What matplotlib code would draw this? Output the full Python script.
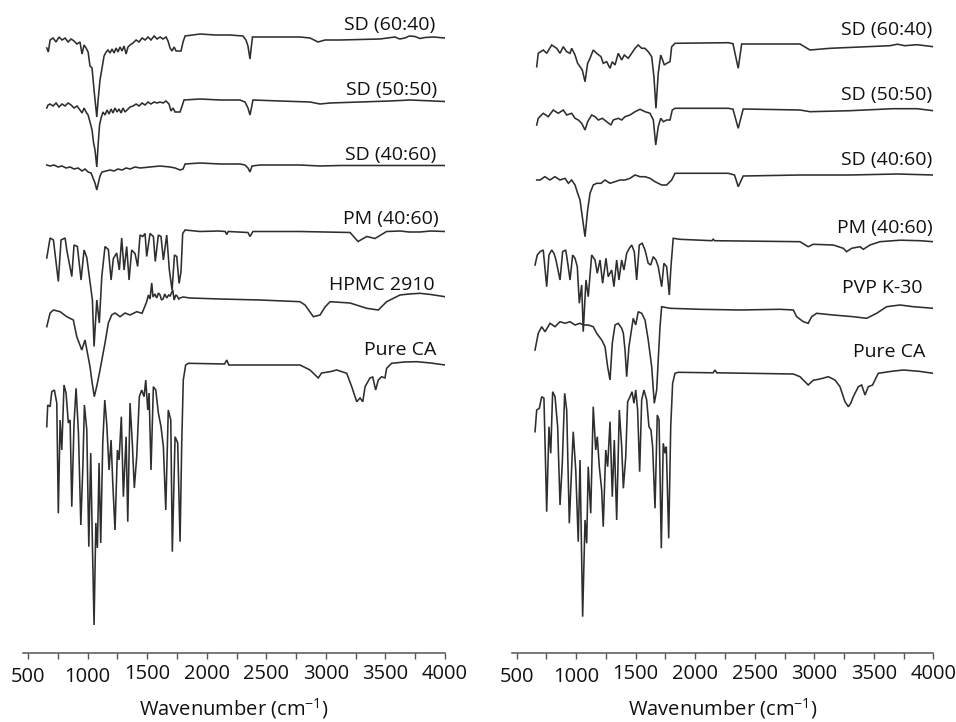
import matplotlib
matplotlib.use("Agg")
import matplotlib.pyplot as plt
from matplotlib.ticker import MultipleLocator
from matplotlib.transforms import ScaledTranslation

plt.rcParams['font.family'] = ['Open Sans', 'DejaVu Sans']
plt.rcParams['mathtext.fontset'] = 'custom'
plt.rcParams['mathtext.rm'] = 'Open Sans'
plt.rcParams['mathtext.it'] = 'Open Sans:italic'

# ---------------- data (wavenumber in cm-1, relative transmittance) ----------------
XTICKS = [500, 1000, 1500, 2000, 2500, 3000, 3500, 4000]
XLABEL = r'Wavenumber (cm$^{-1}$)'

# ---- left panel (HPMC 2910 systems) ----
L_NAMES = ["SD (60:40)", "SD (50:50)", "SD (40:60)", "PM (40:60)", "HPMC 2910", "Pure CA"]
L_OFFSETS = [615, 551.5, 487.5, 421.5, 356, 288]

L_SD6040_WN = [657, 670, 685, 710, 735, 760, 785, 811, 836, 861, 886, 911, 936, 953, 970, 987, 1004, 1020, 1037,
               1054, 1077, 1088, 1104, 1121, 1138, 1155, 1171, 1188, 1205, 1222, 1239, 1255, 1272, 1289, 1306, 1323,
               1339, 1356, 1381, 1407, 1432, 1457, 1482, 1507, 1532, 1558, 1583, 1608, 1633, 1658, 1675, 1692, 1709,
               1726, 1743, 1784, 1801, 1818, 1944, 2070, 2195, 2304, 2329, 2346, 2363, 2371, 2384, 2531, 2783, 2867,
               2934, 2993, 3119, 3454, 3580, 3620, 3664, 3700, 3748, 3790, 3832, 3900, 4000]
L_SD6040_T = [-10, -14, -2, 0, -4, 1, -2, 0, -4, -1, -3, -6, -4, -16, -7, -10, -14, -28, -30,
              -52, -79, -62, -42, -30, -18, -14, -12, -15, -11, -15, -10, -14, -9, -13, -8, -16,
              -9, -7, -5, -2, -4, 0, -2, 1, -2, 2, -1, 1, -1, 1, -3, -10, -13,
              -9, -13, -13, -4, 2, 4, 3, 3, 2, -2, -8, -21, -12, 1, 1, 1, 0,
              -4, -2, -2, -1, 1, -1, 0, 2, 1.5, -0.5, 0.5, 1, 0]

L_SD5050_WN = [657, 668, 685, 710, 735, 760, 785, 811, 836, 861, 886, 911, 936, 953, 970, 987, 1004, 1020, 1037,
               1050, 1062, 1077, 1088, 1100, 1113, 1129, 1146, 1163, 1180, 1197, 1213, 1230, 1247, 1264, 1281, 1297,
               1314, 1331, 1356, 1381, 1407, 1432, 1457, 1482, 1507, 1532, 1558, 1583, 1608, 1633, 1658, 1683, 1700,
               1717, 1734, 1776, 1793, 1809, 1944, 2111, 2279, 2321, 2346, 2363, 2375, 2388, 2615, 2867, 2951, 3035,
               3286, 3538, 3706, 4000]
L_SD5050_T = [-6.5, -3.5, -2.5, -4.5, -1.5, -5.5, -2.5, -4.5, -1.5, -3.5, -6.5, -4.5, -8.5, -11.5, -6.5, -10.5,
              -13.5, -20.5, -28.5, -41.5, -48.5, -65.5, -43.5, -23.5, -16.5, -10.5, -13.5, -8.5, -12.5, -7.5, -11.5,
              -6.5, -10.5, -7.5, -11.5, -6.5, -10.5, -8.5, -5.5, -4.5, -2.5, -4.5, -1.5, -3.5, -0.5, -2.5, -0.5,
              -1.5, -0.5, -1.5, 0.5, -2.5, -9.5, -6.5, -10.5, -10.5, -4.5, 1.5, 2.5, 1.5, 1.5, -0.5, -6.5, -13.5,
              -6.5, 1.5, 0.5, -0.5, -2.5, -1.5, -0.5, 0.5, 1.5, 0]

L_SD4060_WN = [657, 685, 718, 752, 785, 819, 853, 886, 920, 953, 978, 1004, 1029, 1045, 1062, 1077, 1092, 1104,
               1121, 1155, 1188, 1222, 1255, 1289, 1323, 1356, 1398, 1440, 1524, 1608, 1692, 1734, 1776, 1801, 1818,
               1944, 2111, 2279, 2321, 2346, 2363, 2380, 2447, 2783, 2951, 3119, 3454, 4000]
L_SD4060_T = [0.5, -0.5, 0.5, -1.5, -0.5, -2.5, -1.5, -3.5, -2.5, -5.5, -3.5, -6.5, -7.5, -12.5, -17.5, -24.5,
              -16.5, -10.5, -6.5, -5.5, -4.5, -5.5, -3.5, -4.5, -2.5, -3.5, -1.5, -2.5, -1.5, -0.5, -1.5, -2.5,
              -4.5, -3.5, 1.5, 2.5, 1.5, 1.5, 0.5, -2.5, -6.5, -0.5, 0.5, 0.5, -0.5, 0, 0, 0]

L_PM_WN = [657, 685, 713, 754, 777, 811, 825, 867, 886, 914, 945, 970, 993, 1014, 1040, 1054, 1077, 1098, 1119,
           1146, 1174, 1197, 1216, 1244, 1266, 1286, 1306, 1328, 1348, 1370, 1398, 1420, 1440, 1463, 1482, 1496,
           1524, 1552, 1568, 1594, 1616, 1636, 1664, 1686, 1709, 1729, 1748, 1768, 1784, 1798, 1818, 1944, 2100,
           2155, 2168, 2180, 2346, 2363, 2388, 2783, 3203, 3270, 3343, 3412, 3510, 3622, 3700, 3790, 3880, 4000]
L_PM_T = [-26.5, -6.5, -8.5, -50, -8.5, -6.5, -18.5, -45, -13.5, -15, -48.5, -18.5, -26, -45, -68.5, -115, -68.5,
          -91.5, -45, -15, -18, -48.5, -27, -21.5, -38.5, -6.5, -38.5, -15, -48.5, -18.5, -22, -35, -3.5, -5, -2,
          -25, -2, -5, -30, -3.5, -5, -28.5, -3.5, -38.5, -58.5, -23.5, -25, -52, -40, -2, 1.5, 0, 0.5,
          0, -3, 0, -1, -5, 0, 0, -1, -10, -5, -7, 0, 0.5, -0.5, -0.5, 0.5, 0]

L_HPMC_WN = [657, 685, 713, 769, 825, 880, 909, 951, 978, 1020, 1037, 1056, 1079, 1104, 1146, 1174, 1202, 1230,
             1272, 1314, 1356, 1412, 1457, 1496, 1510, 1524, 1538, 1549, 1565, 1580, 1595, 1608, 1620, 1633, 1648,
             1664, 1680, 1692, 1715, 1726, 1740, 1751, 1765, 1776, 1800, 1860, 2111, 2447, 2783, 2825, 2895, 2951,
             2993, 3035, 3203, 3343, 3440, 3510, 3622, 3700, 3790, 3880, 4000]
L_HPMC_T = [-29.7, -16, -13, -14.7, -19.7, -23, -39.7, -53, -43, -69.7, -85, -99.7, -88, -73, -46, -26, -18, -16,
            -19.7, -16, -18, -14.7, -16.3, -4.7, 2, -2, 14, 0, 3, -1, 4, 2, -3, -2, 3, -1, 2, 1, 7, -3, 2, 1, -2,
            -1, 0, -1, -2, -3, -4.7, -8, -19.7, -18, -10, -4.7, -6, -11.3, -13, -4.7, 2, 3, 3.7, 2.5, 0.3]

L_CA_WN = [657, 665, 685, 699, 721, 741, 754, 769, 783, 802, 819, 838, 853, 867, 886, 903, 923, 943, 960, 973,
           993, 1010, 1026, 1040, 1054, 1069, 1082, 1096, 1110, 1127, 1144, 1161, 1180, 1197, 1211, 1230, 1250,
           1264, 1283, 1300, 1323, 1337, 1356, 1375, 1392, 1412, 1434, 1454, 1474, 1488, 1505, 1516, 1532, 1552,
           1572, 1594, 1616, 1636, 1656, 1677, 1698, 1711, 1734, 1756, 1776, 1790, 1803, 1823, 1845, 2150, 2168,
           2185, 2783, 2867, 2936, 2964, 3035, 3091, 3175, 3217, 3259, 3287, 3310, 3329, 3370, 3393, 3418, 3440,
           3468, 3496, 3510, 3552, 3660, 3762, 3880, 4000]
L_CA_T = [-61.7, -40, -41.7, -26.7, -25, -38, -148.3, -55, -85, -20, -28, -58, -55, -141.7, -58, -23.3, -68, -160,
          -101.7, -40, -65, -181.7, -88, -178, -260, -158, -183, -98, -178, -78, -35, -60, -105, -75, -118, -165,
          -85, -95, -51.7, -131.7, -71.7, -156.7, -38, -78, -123, -91.7, -31.7, -25, -31.7, -15, -45, -28, -105,
          -21.7, -25, -48, -61.7, -81.7, -145, -45, -55, -186.7, -71.7, -78, -176.7, -78, -15, 0, 1.7, 1, 5, 0, 0,
          -5, -13, -8, -6.7, -5, -8.3, -21.7, -36.7, -33, -36.7, -21.7, -13, -12, -25, -15, -11.7, -13, -3.3,
          1.7, 3, 3.3, 2, 0]

# ---- right panel (PVP K-30 systems) ----
R_NAMES = ["SD (60:40)", "SD (50:50)", "SD (40:60)", "PM (40:60)", "PVP K-30", "Pure CA"]
R_OFFSETS = [606.3, 542.3, 478, 411.3, 344.7, 279.7]

R_SD6040_WN = [668, 681, 723, 752, 794, 836, 864, 891, 920, 948, 962, 990, 1012, 1032, 1051, 1074, 1096, 1116,
               1143, 1172, 1208, 1227, 1256, 1284, 1303, 1326, 1353, 1382, 1404, 1437, 1466, 1494, 1521, 1550,
               1578, 1605, 1634, 1653, 1670, 1689, 1710, 1726, 1740, 1760, 1788, 1802, 1830, 2277, 2317, 2361,
               2390, 2880, 2964, 3132, 3636, 3700, 3760, 3863, 4000]
R_SD6040_T = [-20, -6.6, -3.3, -6.6, 1.7, -1.6, -6.6, 0, -5, -6.6, -1.6, -8.3, -16.6, -20, -23.3, -35, -16.6,
              -11.6, -3.3, -6.6, -10, -16.6, -15, -21.6, -15, -18.3, -6.6, -13.3, -8.3, -11.6, -6.6, -1.6, 1.7,
              -1.6, -1.6, -5, -10, -30, -61.6, -26.6, -8.3, -13.3, -18.3, -16.6, -15, 0, 3.4, 4, 3, -21.6, 2.7,
              2.7, -3.3, -1.6, 1, 2.5, 1, 2, 0]

R_SD5050_WN = [668, 681, 723, 765, 807, 849, 891, 920, 962, 990, 1017, 1046, 1074, 1096, 1130, 1158, 1186, 1219,
               1256, 1292, 1311, 1353, 1382, 1410, 1452, 1494, 1536, 1578, 1620, 1648, 1668, 1689, 1710, 1732,
               1760, 1788, 1807, 1830, 2277, 2317, 2361, 2403, 2880, 2964, 3300, 3661, 3863, 4000]
R_SD5050_T = [-14.3, -7.6, -2.6, -6, 0.7, -2.6, 0.7, -4.3, -2.6, -7.6, -9.3, -12.6, -19.3, -11, -4.3, -6, -9.3,
              -7.6, -11, -14.3, -9.3, -7.6, -9.3, -6, -4.3, -1, 1.4, -1, -2.6, -9.3, -34.3, -16, -7.6, -11, -9.3,
              -9.3, 0.7, 2.4, 2.4, 1.5, -17.6, 1.7, 0.7, -1, 0, 2, 2, 0]

R_SD4060_WN = [668, 696, 737, 779, 821, 864, 906, 934, 962, 990, 1012, 1032, 1051, 1074, 1096, 1116, 1143, 1172,
               1208, 1242, 1284, 1326, 1368, 1410, 1452, 1494, 1536, 1578, 1620, 1662, 1689, 1718, 1760, 1802,
               1816, 1830, 2277, 2330, 2361, 2403, 2880, 3300, 3700, 4000]
R_SD4060_T = [-5, -5, -1.7, -5, -1.7, -5, -3.3, -8.3, -5, -10, -18.3, -25, -41.7, -61.7, -35, -18.3, -10, -8.3,
              -8.3, -5, -8.3, -6.7, -5, -5, -3.3, 0, -1.7, -1.7, -3.3, -6.7, -8.3, -10, -10, -5, -1.7, 1.7, 1.7,
              0, -11.7, -1, 0, 0, 1, 0]

R_PM_WN = [654, 673, 696, 723, 752, 771, 794, 813, 830, 864, 886, 912, 925, 948, 970, 990, 1009, 1026, 1046, 1059,
           1082, 1101, 1130, 1158, 1177, 1200, 1222, 1250, 1269, 1298, 1317, 1340, 1359, 1382, 1401, 1424, 1446,
           1466, 1488, 1508, 1530, 1555, 1578, 1605, 1626, 1647, 1670, 1689, 1718, 1737, 1760, 1782, 1796, 1815,
           1872, 2140, 2151, 2162, 2880, 2949, 2991, 3159, 3244, 3272, 3314, 3384, 3412, 3468, 3552, 3720, 3888, 4000]
R_PM_T = [-23.3, -13.3, -10, -8.3, -45, -13.3, -8.3, -11.6, -18.3, -38.3, -10, -8.3, -18.3, -38.3, -13.3, -16.6,
          -25, -61.6, -43.3, -90, -38.3, -55, -13.3, -18.3, -31.6, -18.3, -41.6, -16.6, -35, -28.3, -45, -18.3,
          -38.3, -18.3, -28.3, -11.6, -6.6, -3.3, -10, -38.3, -3.3, -1.6, -8.3, -21.6, -23.3, -15, -18.3, -25, -45,
          -21.6, -25, -53.3, -25, 3.4, 2.4, 1, 2.5, 1, 0, -5, -2.6, -3.3, -6.6, -10, -6.6, -5, -7.6, -3.3, 0, 1.5,
          1, 0]

R_PVP_WN = [654, 681, 710, 738, 780, 822, 864, 906, 948, 990, 1032, 1059, 1101, 1143, 1172, 1214, 1242, 1264,
            1284, 1303, 1326, 1353, 1382, 1396, 1410, 1424, 1443, 1460, 1479, 1500, 1521, 1550, 1578, 1605, 1634,
            1656, 1676, 1689, 1704, 1718, 1788, 2040, 2376, 2712, 2824, 2852, 2908, 2949, 2978, 3020, 3159, 3327,
            3440, 3524, 3608, 3720, 3832, 4000]
R_PVP_T = [-41.7, -25, -18.4, -23.4, -15, -18.4, -13.4, -15, -13.4, -16.7, -15, -16.7, -16.7, -18.4, -25, -31.7,
           -38.4, -58.4, -71.7, -35, -16.7, -15, -20, -25, -41.7, -68.4, -38.4, -25, -10, -16.7, -3.4, -5, -11.7,
           -31.7, -58.4, -95, -81.7, -51.7, -18.4, 1.6, 0, -1, -1.7, -1, -1.7, -8.4, -13.4, -15, -8.4, -5, -6.7,
           -8.4, -10, -5, 1.6, 3.3, 1.6, 0]

R_CA_WN = [654, 668, 690, 710, 729, 752, 771, 786, 802, 822, 844, 864, 883, 903, 920, 942, 962, 975, 996, 1017,
           1032, 1054, 1074, 1088, 1101, 1122, 1143, 1164, 1177, 1194, 1214, 1227, 1248, 1264, 1284, 1303, 1320,
           1340, 1362, 1382, 1396, 1416, 1432, 1452, 1469, 1485, 1500, 1516, 1533, 1550, 1569, 1592, 1611, 1628,
           1642, 1662, 1681, 1696, 1715, 1731, 1746, 1757, 1777, 1794, 1810, 1830, 1857, 2150, 2166, 2180, 2824,
           2880, 2949, 2991, 3048, 3118, 3174, 3216, 3258, 3286, 3306, 3328, 3370, 3398, 3426, 3454, 3490, 3510,
           3538, 3650, 3748, 3880, 4000]
R_CA_T = [-58.4, -36.7, -35, -23.4, -25, -138.4, -53.4, -80, -18.4, -23.4, -53.4, -131.7, -90, -20, -36.7, -150,
          -93.4, -58.4, -96.7, -168.4, -86.7, -243.4, -146.7, -170, -93.4, -140, -33.4, -76.7, -63.4, -93.4, -116.7,
          -153.4, -76.7, -93.4, -48.4, -123.4, -66.7, -146.7, -36.7, -73.4, -115, -83.4, -28.4, -23.4, -18.4, -30,
          -16.7, -36.7, -98.4, -26.7, -16.7, -26.7, -53.4, -56.7, -73.4, -135, -41.7, -46.7, -175, -70, -80, -73.4,
          -165, -53.4, -10, 0, 1, 0.5, 3.3, 0.5, -0.7, -3.4, -11.7, -7, -5.7, -3.4, -6.7, -13.4, -28.4, -33.4, -30,
          -23.4, -13.4, -11.7, -21.7, -13.4, -11.7, -6.7, 0, 2, 3.3, 2, 0]

LEFT_SPECTRA = [(L_SD6040_WN, L_SD6040_T), (L_SD5050_WN, L_SD5050_T), (L_SD4060_WN, L_SD4060_T),
                (L_PM_WN, L_PM_T), (L_HPMC_WN, L_HPMC_T), (L_CA_WN, L_CA_T)]
RIGHT_SPECTRA = [(R_SD6040_WN, R_SD6040_T), (R_SD5050_WN, R_SD5050_T), (R_SD4060_WN, R_SD4060_T),
                 (R_PM_WN, R_PM_T), (R_PVP_WN, R_PVP_T), (R_CA_WN, R_CA_T)]

# label anchor positions (wavenumber of right edge, height)
L_LABEL_X = [3916, 3930, 3930, 3950, 3916, 3930]
L_LABEL_Y = [628, 563, 498, 433.7, 368, 303]
R_LABEL_X = [3994, 3988, 3988, 3997, 3913, 3930]
R_LABEL_Y = [623, 558, 493, 424.7, 364.7, 301.3]

# ---------------- drawing ----------------
W, H = 956, 722
fig = plt.figure(figsize=(W / 100, H / 100), dpi=100)
fig.patch.set_facecolor('white')

LINE_C = '#2e2e2e'
TEXT_C = '#111111'


def make_axes(left_px, right_px, xmin):
    ax = fig.add_axes([left_px / W, (H - 653) / H, (right_px - left_px) / W, 653 / H])
    ax.set_xlim(xmin, 4000)
    ax.set_ylim(0, 653)
    for s in ['top', 'left', 'right']:
        ax.spines[s].set_visible(False)
    ax.spines['bottom'].set_color('#555555')
    ax.spines['bottom'].set_linewidth(1.1)
    ax.set_yticks([])
    ax.set_xticks(XTICKS)
    ax.xaxis.set_minor_locator(MultipleLocator(250))
    ax.tick_params(axis='x', which='both', direction='out', length=4.5, width=1.0, color='#555555',
                   labelsize=14.5, pad=3.5, labelcolor=TEXT_C)
    ax.set_xlabel(XLABEL, fontsize=14.5, labelpad=6.5, color=TEXT_C)
    ax.patch.set_alpha(0)
    # first two tick labels sit slightly lower in the original
    for lab in ax.get_xticklabels()[:2]:
        lab.set_transform(lab.get_transform() + ScaledTranslation(0, -3 / 100, fig.dpi_scale_trans))
    return ax


axL = make_axes(22.7, 445, 455)
axR = make_axes(511.7, 933.3, 458)

for ax, spectra, offs, names, lx, ly in [
        (axL, LEFT_SPECTRA, L_OFFSETS, L_NAMES, L_LABEL_X, L_LABEL_Y),
        (axR, RIGHT_SPECTRA, R_OFFSETS, R_NAMES, R_LABEL_X, R_LABEL_Y)]:
    for (wn, t), off in zip(spectra, offs):
        ax.plot(wn, [off + v for v in t], color=LINE_C, lw=1.15, solid_joinstyle='miter')
    for name, x, y in zip(names, lx, ly):
        ax.text(x, y, name, ha='right', va='center', fontsize=14, color=TEXT_C, clip_on=False)

fig.savefig('out.png', dpi=100, facecolor='white')
